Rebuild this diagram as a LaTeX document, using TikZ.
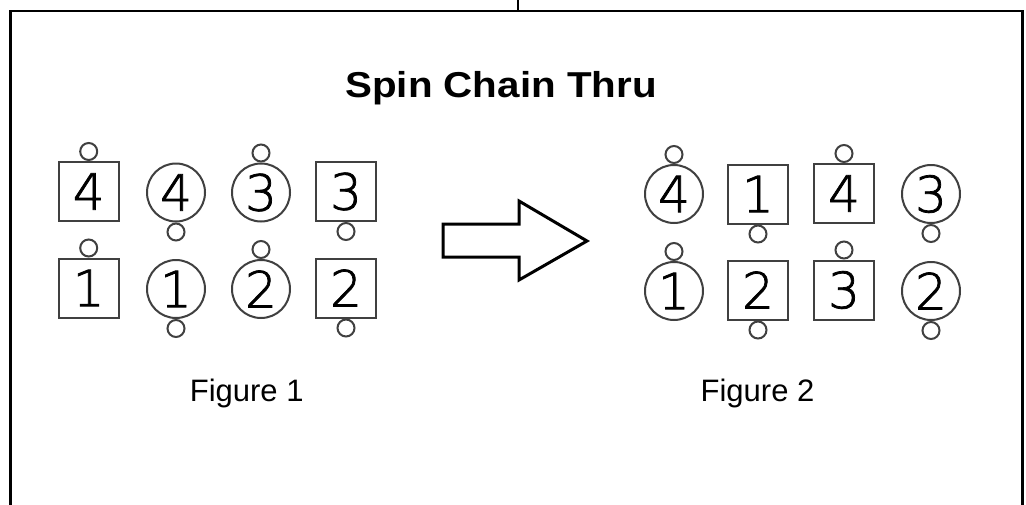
\documentclass[tikz,border=0pt]{standalone}
\usepackage{fontspec}
\setmainfont{Liberation Sans}
\newfontfamily\titlefont[FakeStretch=1.12]{Liberation Sans}
\newfontfamily\digitfont[FakeBold=1.5]{DejaVu Sans ExtraLight}
\begin{document}
\begin{tikzpicture}[x=1pt,y=-1pt,
  piece/.style={draw=black!75, line width=2pt, inner sep=0pt,
    font=\digitfont\fontsize{50}{50}\selectfont},
  sqpiece/.style={piece, rectangle, minimum width=60pt, minimum height=59pt},
  cpiece/.style={piece, circle, minimum size=58pt},
  knob/.style={draw=black!75, line width=2pt, circle, inner sep=0pt, minimum size=17pt},
  caption/.style={anchor=base, inner sep=0pt, font=\fontsize{31}{31}\selectfont},
  frame/.style={line width=2.5pt, line cap=rect},
  bigarrow/.style={line width=3pt, line join=miter}
]
\useasboundingbox (0,0) rectangle (1026,504);
\fill[white] (0,0) rectangle (1026,504);

% outer frame and the short lead-in line above it
\coordinate (fbl) at (10.5,506);
\coordinate (ftl) at (10.5,11);
\coordinate (ftr) at (1022.7,11);
\coordinate (fbr) at (1022.7,506);
\coordinate (stubtop) at (518,-1);
\coordinate (stubbot) at (518,11);
\draw[frame] (fbl) -- (ftl) -- (ftr) -- (fbr);
\draw[line width=1.3pt] (stubtop) -- (stubbot);

% title
\node[anchor=base, inner sep=0pt, font=\titlefont\bfseries\fontsize{36}{36}\selectfont]
  (title) at (501,97) {Spin Chain Thru};

% ---- first arrangement ----
\node[sqpiece] (a1) at (88.7,191.5) {4};
\node[cpiece]  (a2) at (176,192.5) {4};
\node[cpiece]  (a3) at (261,192.5) {3};
\node[sqpiece] (a4) at (346,191.5) {3};
\node[sqpiece] (a5) at (88.7,288) {1};
\node[cpiece]  (a6) at (176,289) {1};
\node[cpiece]  (a7) at (261,289) {2};
\node[sqpiece] (a8) at (346,288) {2};

\node[knob, anchor=south] (ka1) at (a1.north) {};
\node[knob, anchor=north] (ka2) at (a2.south) {};
\node[knob, anchor=south] (ka3) at (a3.north) {};
\node[knob, anchor=north] (ka4) at (a4.south) {};
\node[knob, anchor=south] (ka5) at (a5.north) {};
\node[knob, anchor=north] (ka6) at (a6.south) {};
\node[knob, anchor=south] (ka7) at (a7.north) {};
\node[knob, anchor=north] (ka8) at (a8.south) {};

% ---- second arrangement ----
\node[cpiece]  (b1) at (674,194) {4};
\node[sqpiece] (b2) at (758,194) {1};
\node[sqpiece] (b3) at (844,193.5) {4};
\node[cpiece]  (b4) at (931,194) {3};
\node[cpiece]  (b5) at (674,291) {1};
\node[sqpiece] (b6) at (758,290) {2};
\node[sqpiece] (b7) at (844,290) {3};
\node[cpiece]  (b8) at (931,291) {2};

\node[knob, anchor=south] (kb1) at (b1.north) {};
\node[knob, anchor=north] (kb2) at (b2.south) {};
\node[knob, anchor=south] (kb3) at (b3.north) {};
\node[knob, anchor=north] (kb4) at (b4.south) {};
\node[knob, anchor=south] (kb5) at (b5.north) {};
\node[knob, anchor=north] (kb6) at (b6.south) {};
\node[knob, anchor=south] (kb7) at (b7.north) {};
\node[knob, anchor=north] (kb8) at (b8.south) {};

% block arrow between the two arrangements
\draw[bigarrow] (443,224) -- (519,224) -- (519,201) -- (587,241)
  -- (519,280) -- (519,257) -- (443,257) -- cycle;

% captions
\node[caption] (cap1) at (246.7,401.7) {Figure 1};
\node[caption] (cap2) at (757.5,401.7) {Figure 2};
\end{tikzpicture}
\end{document}
